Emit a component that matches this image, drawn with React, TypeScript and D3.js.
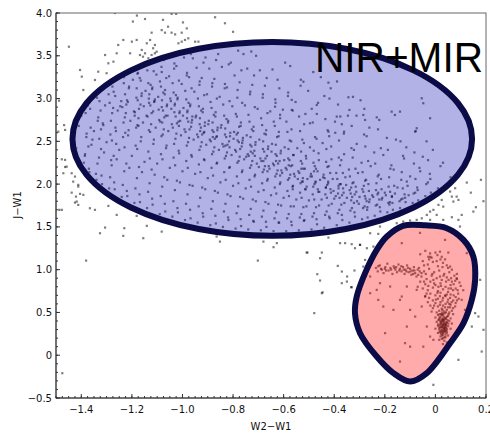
import React from "react";
import * as d3 from "d3";

// ---- axis ticks ----
const xTicks = [-1.4, -1.2, -1.0, -0.8, -0.6, -0.4, -0.2, 0, 0.2];
const xTickLabels = ["−1.4", "−1.2", "−1.0", "−0.8", "−0.6", "−0.4", "−0.2", "0", "0.2"];
const yTicks = [-0.5, 0, 0.5, 1.0, 1.5, 2.0, 2.5, 3.0, 3.5, 4.0];
const yTickLabels = ["−0.5", "0", "0.5", "1.0", "1.5", "2.0", "2.5", "3.0", "3.5", "4.0"];
const xLabel = "W2−W1";
const yLabel = "J−W1";
const title = "NIR+MIR";

// ---- region shapes (data units) ----
const blueEllipse = { cx: -0.645, cy: 2.528, rx: 0.79, ry: 1.133 };
const redOutline: [number, number][] = [
  [-0.128, 1.512], [-0.192, 1.387], [-0.232, 1.231], [-0.278, 0.959], [-0.311, 0.686],
  [-0.318, 0.492], [-0.298, 0.258], [-0.232, -0.015], [-0.166, -0.209], [-0.1, -0.307],
  [-0.034, -0.209], [0.058, 0.141], [0.111, 0.375], [0.144, 0.647], [0.157, 0.881],
  [0.15, 1.153], [0.111, 1.348], [0.045, 1.485], [-0.041, 1.518],
];

// ---- scatter points: blue (upper) population ----
const bluePoints: [number, number][] = [
  [-1.39,2.25],[-1.42,2.42],[-1.38,2.55],[-1.41,2.68],[-1.40,2.80],[-1.385,2.35],
  [-1.34,2.05],[-1.37,2.18],[-1.33,2.31],[-1.36,2.46],[-1.35,2.62],[-1.335,2.74],[-1.365,2.88],[-1.328,2.97],[-1.356,2.52],[-1.342,2.12],
  [-1.29,1.95],[-1.32,2.10],[-1.28,2.22],[-1.31,2.37],[-1.30,2.49],[-1.285,2.58],[-1.315,2.71],[-1.278,2.83],[-1.306,2.92],[-1.292,3.05],[-1.322,2.64],[-1.282,2.28],
  [-1.24,1.85],[-1.27,2.02],[-1.23,2.15],[-1.26,2.29],[-1.25,2.40],[-1.235,2.55],[-1.265,2.66],[-1.228,2.78],[-1.256,2.86],[-1.242,2.97],[-1.272,3.08],[-1.232,3.18],[-1.262,2.47],[-1.246,2.91],[-1.226,2.60],
  [-1.19,1.78],[-1.22,1.92],[-1.18,2.07],[-1.21,2.19],[-1.20,2.33],[-1.185,2.45],[-1.215,2.57],[-1.178,2.69],[-1.206,2.74],[-1.192,2.85],[-1.222,2.93],[-1.182,3.01],[-1.212,3.12],[-1.196,3.22],[-1.176,3.30],[-1.219,2.98],[-1.189,2.80],
  [-1.14,1.72],[-1.17,1.88],[-1.13,2.01],[-1.16,2.14],[-1.15,2.26],[-1.135,2.38],[-1.165,2.50],[-1.128,2.61],[-1.156,2.72],[-1.142,2.80],[-1.172,2.88],[-1.132,2.95],[-1.162,3.03],[-1.146,3.09],[-1.126,3.16],[-1.169,3.24],[-1.139,3.33],[-1.153,2.91],[-1.133,3.00],[-1.174,2.68],
  [-1.09,1.65],[-1.12,1.83],[-1.08,1.97],[-1.11,2.11],[-1.10,2.24],[-1.085,2.35],[-1.115,2.47],[-1.078,2.58],[-1.106,2.66],[-1.092,2.75],[-1.122,2.83],[-1.082,2.90],[-1.112,2.96],[-1.096,3.02],[-1.076,3.07],[-1.119,3.13],[-1.089,3.20],[-1.103,3.28],[-1.083,3.37],[-1.124,3.43],[-1.094,2.87],[-1.109,2.99],[-1.08,2.72],
  [-1.04,1.62],[-1.07,1.77],[-1.03,1.93],[-1.06,2.05],[-1.05,2.19],[-1.035,2.31],[-1.065,2.42],[-1.028,2.53],[-1.056,2.62],[-1.042,2.70],[-1.072,2.78],[-1.032,2.84],[-1.062,2.91],[-1.046,2.97],[-1.026,3.04],[-1.069,3.10],[-1.039,3.18],[-1.053,3.26],[-1.033,3.35],[-1.074,3.45],[-1.044,2.88],[-1.059,2.80],[-1.03,2.94],[-1.048,3.00],
  [-0.99,1.58],[-1.02,1.72],[-0.98,1.88],[-1.01,2.02],[-1.00,2.15],[-0.985,2.27],[-1.015,2.39],[-0.978,2.49],[-1.006,2.57],[-0.992,2.64],[-1.022,2.71],[-0.982,2.77],[-1.012,2.83],[-0.996,2.89],[-0.976,2.95],[-1.019,3.01],[-0.989,3.09],[-1.003,3.17],[-0.983,3.27],[-1.024,3.38],[-0.994,3.48],[-1.009,2.74],[-0.98,2.86],[-1.014,2.68],[-0.998,2.80],
  [-0.94,1.55],[-0.97,1.70],[-0.93,1.84],[-0.96,1.98],[-0.95,2.12],[-0.935,2.23],[-0.965,2.34],[-0.928,2.44],[-0.956,2.52],[-0.942,2.58],[-0.972,2.64],[-0.932,2.70],[-0.962,2.75],[-0.946,2.80],[-0.926,2.86],[-0.969,2.93],[-0.939,3.00],[-0.953,3.08],[-0.933,3.16],[-0.974,3.25],[-0.944,3.36],[-0.959,3.47],[-0.93,2.62],[-0.964,2.72],[-0.948,2.78],
  [-0.89,1.52],[-0.92,1.66],[-0.88,1.80],[-0.91,1.94],[-0.90,2.07],[-0.885,2.19],[-0.915,2.29],[-0.878,2.38],[-0.906,2.46],[-0.892,2.52],[-0.922,2.58],[-0.882,2.63],[-0.912,2.68],[-0.896,2.74],[-0.876,2.81],[-0.919,2.88],[-0.889,2.96],[-0.903,3.05],[-0.883,3.14],[-0.924,3.24],[-0.894,3.35],[-0.909,3.48],[-0.88,2.55],[-0.914,2.61],[-0.898,2.70],
  [-0.84,1.50],[-0.87,1.63],[-0.83,1.77],[-0.86,1.90],[-0.85,2.02],[-0.835,2.14],[-0.865,2.24],[-0.828,2.33],[-0.856,2.40],[-0.842,2.47],[-0.872,2.53],[-0.832,2.58],[-0.862,2.63],[-0.846,2.69],[-0.826,2.76],[-0.869,2.84],[-0.839,2.93],[-0.853,3.02],[-0.833,3.12],[-0.874,3.23],[-0.844,3.37],[-0.859,3.52],[-0.83,2.45],[-0.864,2.56],[-0.848,2.66],
  [-0.79,1.48],[-0.82,1.61],[-0.78,1.74],[-0.81,1.86],[-0.80,1.98],[-0.785,2.09],[-0.815,2.19],[-0.778,2.27],[-0.806,2.34],[-0.792,2.40],[-0.822,2.46],[-0.782,2.51],[-0.812,2.56],[-0.796,2.61],[-0.776,2.67],[-0.819,2.74],[-0.789,2.82],[-0.803,2.91],[-0.783,3.01],[-0.824,3.13],[-0.794,3.27],[-0.809,3.42],[-0.78,3.56],[-0.814,2.43],[-0.798,2.53],[-0.786,2.58],
  [-0.74,1.47],[-0.77,1.59],[-0.73,1.71],[-0.76,1.83],[-0.75,1.95],[-0.735,2.05],[-0.765,2.14],[-0.728,2.22],[-0.756,2.29],[-0.742,2.35],[-0.772,2.41],[-0.732,2.46],[-0.762,2.51],[-0.746,2.57],[-0.726,2.64],[-0.769,2.72],[-0.739,2.81],[-0.753,2.92],[-0.733,3.05],[-0.774,3.19],[-0.744,3.35],[-0.759,3.52],[-0.73,2.38],[-0.764,2.48],[-0.748,2.32],
  [-0.69,1.46],[-0.72,1.57],[-0.68,1.69],[-0.71,1.80],[-0.70,1.91],[-0.685,2.01],[-0.715,2.09],[-0.678,2.17],[-0.706,2.24],[-0.692,2.30],[-0.722,2.36],[-0.682,2.41],[-0.712,2.46],[-0.696,2.52],[-0.676,2.59],[-0.719,2.67],[-0.689,2.77],[-0.703,2.88],[-0.683,3.01],[-0.724,3.16],[-0.694,3.33],[-0.709,3.50],[-0.68,2.27],[-0.714,2.33],[-0.698,2.20],
  [-0.64,1.45],[-0.67,1.56],[-0.63,1.67],[-0.66,1.77],[-0.65,1.87],[-0.635,1.96],[-0.665,2.04],[-0.628,2.12],[-0.656,2.18],[-0.642,2.24],[-0.672,2.30],[-0.632,2.35],[-0.662,2.41],[-0.646,2.47],[-0.626,2.55],[-0.669,2.63],[-0.639,2.73],[-0.653,2.85],[-0.633,2.99],[-0.674,3.15],[-0.644,3.34],[-0.659,2.21],[-0.63,2.27],[-0.664,2.15],[-0.648,2.38],
  [-0.59,1.45],[-0.62,1.55],[-0.58,1.65],[-0.61,1.75],[-0.60,1.84],[-0.585,1.92],[-0.615,2.00],[-0.578,2.07],[-0.606,2.13],[-0.592,2.19],[-0.622,2.24],[-0.582,2.30],[-0.612,2.36],[-0.596,2.43],[-0.576,2.51],[-0.619,2.61],[-0.589,2.73],[-0.603,2.87],[-0.583,3.03],[-0.624,3.22],[-0.594,3.42],[-0.609,2.16],[-0.58,2.22],[-0.614,2.10],[-0.598,2.28],
  [-0.54,1.46],[-0.57,1.56],[-0.53,1.65],[-0.56,1.74],[-0.55,1.82],[-0.535,1.90],[-0.565,1.97],[-0.528,2.03],[-0.556,2.09],[-0.542,2.15],[-0.572,2.21],[-0.532,2.27],[-0.562,2.34],[-0.546,2.42],[-0.526,2.52],[-0.569,2.64],[-0.539,2.79],[-0.553,2.96],[-0.533,3.15],[-0.574,3.38],[-0.544,2.06],[-0.559,2.12],[-0.53,2.18],[-0.564,1.94],
  [-0.49,1.47],[-0.52,1.57],[-0.48,1.66],[-0.51,1.74],[-0.50,1.81],[-0.485,1.88],[-0.515,1.94],[-0.478,2.00],[-0.506,2.06],[-0.492,2.12],[-0.522,2.18],[-0.482,2.25],[-0.512,2.33],[-0.496,2.43],[-0.476,2.55],[-0.519,2.70],[-0.489,2.88],[-0.503,3.09],[-0.483,3.31],[-0.524,2.03],[-0.494,2.09],[-0.509,1.97],[-0.48,2.15],
  [-0.44,1.49],[-0.47,1.59],[-0.43,1.68],[-0.46,1.75],[-0.45,1.82],[-0.435,1.88],[-0.465,1.94],[-0.428,1.99],[-0.456,2.05],[-0.442,2.11],[-0.472,2.18],[-0.432,2.26],[-0.462,2.36],[-0.446,2.48],[-0.426,2.63],[-0.469,2.82],[-0.439,3.03],[-0.453,3.25],[-0.433,1.96],[-0.474,2.02],[-0.444,2.08],[-0.459,1.91],
  [-0.39,1.52],[-0.42,1.62],[-0.38,1.70],[-0.41,1.77],[-0.40,1.83],[-0.385,1.89],[-0.415,1.94],[-0.378,2.00],[-0.406,2.06],[-0.392,2.13],[-0.422,2.21],[-0.382,2.31],[-0.412,2.44],[-0.396,2.60],[-0.376,2.79],[-0.419,3.00],[-0.389,3.20],[-0.403,1.92],[-0.383,1.98],[-0.424,2.03],[-0.394,1.86],
  [-0.34,1.55],[-0.37,1.64],[-0.33,1.72],[-0.36,1.78],[-0.35,1.84],[-0.335,1.89],[-0.365,1.95],[-0.328,2.01],[-0.356,2.08],[-0.342,2.17],[-0.372,2.28],[-0.332,2.42],[-0.362,2.59],[-0.346,2.80],[-0.326,3.02],[-0.369,1.87],[-0.339,1.93],[-0.353,1.99],[-0.333,1.81],
  [-0.29,1.59],[-0.32,1.67],[-0.28,1.74],[-0.31,1.80],[-0.30,1.85],[-0.285,1.91],[-0.315,1.97],[-0.278,2.04],[-0.306,2.13],[-0.292,2.25],[-0.322,2.40],[-0.282,2.58],[-0.312,2.80],[-0.296,2.98],[-0.276,1.83],[-0.319,1.88],[-0.289,1.94],[-0.303,1.77],
  [-0.24,1.63],[-0.27,1.70],[-0.23,1.76],[-0.26,1.82],[-0.25,1.87],[-0.235,1.93],[-0.265,2.00],[-0.228,2.09],[-0.256,2.21],[-0.242,2.37],[-0.272,2.56],[-0.232,2.78],[-0.262,1.79],[-0.246,1.85],[-0.226,1.90],[-0.269,1.73],
  [-0.19,1.67],[-0.22,1.73],[-0.18,1.79],[-0.21,1.84],[-0.20,1.90],[-0.185,1.97],[-0.215,2.06],[-0.178,2.18],[-0.206,2.34],[-0.192,2.54],[-0.222,2.75],[-0.182,1.76],[-0.212,1.82],[-0.196,1.87],
  [-0.14,1.72],[-0.17,1.78],[-0.13,1.83],[-0.16,1.89],[-0.15,1.96],[-0.135,2.05],[-0.165,2.17],[-0.128,2.33],[-0.156,2.52],[-0.142,1.80],[-0.172,1.86],
  [-0.09,1.78],[-0.12,1.84],[-0.08,1.90],[-0.11,1.98],[-0.10,2.09],[-0.085,2.24],[-0.115,2.43],[-0.078,2.62],[-0.106,1.87],
  [-0.04,1.86],[-0.07,1.93],[-0.03,2.02],[-0.06,2.15],[-0.05,2.32],[-0.035,2.50],
  [0.01,1.95],[-0.02,2.06],[0.02,2.21],[-0.01,2.40],[0.06,2.08],[0.03,2.25],
  [-0.522,3.197],[-0.423,3.186],[-0.344,3.015],[-0.054,3.003],[-0.048,2.945],[-0.021,2.77],[-0.173,2.847],[-0.16,2.808],
  [-0.14,2.847],[-0.285,2.808],[-0.278,2.75],[-0.34,2.867],[-0.39,2.789],[-0.397,2.73],[-0.469,2.925],[-0.568,2.984],
  [-0.568,2.867],[-0.614,2.77],[-0.634,2.905],[-0.496,2.711],[-0.08,2.613],[-0.074,2.653],[-0.361,2.613],[-0.423,2.613],
];

// second pass of blue points read between the columns above
const bluePoints2: [number, number][] = [
  [-1.368,2.14],[-1.386,2.33],[-1.372,2.44],[-1.379,2.59],[-1.363,2.66],[-1.383,2.83],[-1.374,2.92],
  [-1.318,2.00],[-1.336,2.24],[-1.322,2.41],[-1.329,2.53],[-1.313,2.69],[-1.333,2.78],[-1.324,2.86],[-1.338,3.01],
  [-1.268,1.94],[-1.286,2.08],[-1.272,2.33],[-1.279,2.51],[-1.263,2.62],[-1.283,2.74],[-1.274,2.89],[-1.288,2.95],[-1.266,3.03],[-1.277,3.14],
  [-1.218,1.86],[-1.236,1.99],[-1.222,2.24],[-1.229,2.43],[-1.213,2.63],[-1.233,2.72],[-1.224,2.83],[-1.238,2.90],[-1.216,2.96],[-1.227,3.05],[-1.211,3.14],[-1.231,3.25],
  [-1.168,1.79],[-1.186,1.95],[-1.172,2.20],[-1.179,2.41],[-1.163,2.55],[-1.183,2.66],[-1.174,2.77],[-1.188,2.84],[-1.166,2.93],[-1.177,2.98],[-1.161,3.06],[-1.181,3.12],[-1.165,3.21],[-1.178,3.29],
  [-1.118,1.76],[-1.136,1.91],[-1.122,2.17],[-1.129,2.30],[-1.113,2.52],[-1.133,2.63],[-1.124,2.70],[-1.138,2.79],[-1.116,2.85],[-1.127,2.92],[-1.111,2.97],[-1.131,3.05],[-1.12,3.11],[-1.135,3.18],[-1.114,3.32],[-1.132,3.40],
  [-1.068,1.68],[-1.086,1.86],[-1.072,2.08],[-1.079,2.29],[-1.063,2.45],[-1.083,2.56],[-1.074,2.64],[-1.088,2.73],[-1.066,2.80],[-1.077,2.86],[-1.061,2.93],[-1.081,2.98],[-1.07,3.05],[-1.085,3.14],[-1.064,3.24],[-1.082,3.31],[-1.067,3.47],
  [-1.018,1.67],[-1.036,1.80],[-1.022,2.04],[-1.029,2.22],[-1.013,2.36],[-1.033,2.47],[-1.024,2.59],[-1.038,2.66],[-1.016,2.73],[-1.027,2.79],[-1.011,2.85],[-1.031,2.92],[-1.02,2.99],[-1.035,3.07],[-1.014,3.21],[-1.032,3.41],
  [-0.968,1.60],[-0.986,1.77],[-0.972,1.99],[-0.979,2.19],[-0.963,2.32],[-0.983,2.45],[-0.974,2.54],[-0.988,2.61],[-0.966,2.67],[-0.977,2.73],[-0.961,2.79],[-0.981,2.84],[-0.97,2.91],[-0.985,2.99],[-0.964,3.12],[-0.982,3.30],[-0.967,3.52],
  [-0.918,1.62],[-0.936,1.74],[-0.922,1.96],[-0.929,2.14],[-0.913,2.28],[-0.933,2.40],[-0.924,2.49],[-0.938,2.55],[-0.916,2.60],[-0.927,2.66],[-0.911,2.72],[-0.931,2.77],[-0.92,2.84],[-0.935,2.91],[-0.914,3.04],[-0.932,3.20],[-0.917,3.42],
  [-0.868,1.54],[-0.886,1.71],[-0.872,1.92],[-0.879,2.10],[-0.863,2.25],[-0.883,2.35],[-0.874,2.43],[-0.888,2.50],[-0.866,2.55],[-0.877,2.61],[-0.861,2.66],[-0.881,2.72],[-0.87,2.79],[-0.885,2.89],[-0.864,3.00],[-0.882,3.18],[-0.867,3.45],
  [-0.818,1.58],[-0.836,1.68],[-0.822,1.88],[-0.829,2.05],[-0.813,2.20],[-0.833,2.30],[-0.824,2.37],[-0.838,2.44],[-0.816,2.50],[-0.827,2.55],[-0.811,2.60],[-0.831,2.65],[-0.82,2.72],[-0.835,2.80],[-0.814,2.97],[-0.832,3.17],[-0.817,3.40],
  [-0.768,1.51],[-0.786,1.66],[-0.772,1.85],[-0.779,2.01],[-0.763,2.16],[-0.783,2.25],[-0.774,2.32],[-0.788,2.38],[-0.766,2.44],[-0.777,2.49],[-0.761,2.54],[-0.781,2.60],[-0.77,2.68],[-0.785,2.79],[-0.764,2.95],[-0.782,3.10],[-0.767,3.33],
  [-0.718,1.56],[-0.736,1.64],[-0.722,1.82],[-0.729,1.97],[-0.713,2.11],[-0.733,2.19],[-0.724,2.27],[-0.738,2.33],[-0.716,2.39],[-0.727,2.44],[-0.711,2.49],[-0.731,2.55],[-0.72,2.62],[-0.735,2.73],[-0.714,2.90],[-0.732,3.08],[-0.717,3.27],[-0.728,3.55],
  [-0.668,1.50],[-0.686,1.62],[-0.672,1.79],[-0.679,1.93],[-0.663,2.06],[-0.683,2.14],[-0.674,2.21],[-0.688,2.27],[-0.666,2.33],[-0.677,2.38],[-0.661,2.44],[-0.681,2.50],[-0.67,2.58],[-0.685,2.69],[-0.664,2.83],[-0.682,3.05],[-0.667,3.24],
  [-0.618,1.55],[-0.636,1.60],[-0.622,1.76],[-0.629,1.89],[-0.613,2.02],[-0.633,2.09],[-0.624,2.16],[-0.638,2.22],[-0.616,2.27],[-0.627,2.33],[-0.611,2.39],[-0.631,2.46],[-0.62,2.56],[-0.635,2.68],[-0.614,2.81],[-0.632,2.95],[-0.617,3.12],
  [-0.568,1.52],[-0.586,1.60],[-0.572,1.74],[-0.579,1.86],[-0.563,1.98],[-0.583,2.05],[-0.574,2.11],[-0.588,2.17],[-0.566,2.22],[-0.577,2.28],[-0.561,2.34],[-0.581,2.41],[-0.57,2.50],[-0.585,2.61],[-0.564,2.86],[-0.582,3.07],
  [-0.518,1.58],[-0.536,1.61],[-0.522,1.73],[-0.529,1.84],[-0.513,1.94],[-0.533,2.01],[-0.524,2.07],[-0.538,2.13],[-0.516,2.18],[-0.527,2.24],[-0.511,2.30],[-0.531,2.38],[-0.52,2.48],[-0.535,2.62],[-0.514,2.82],[-0.532,3.22],
  [-0.468,1.53],[-0.486,1.62],[-0.472,1.73],[-0.479,1.82],[-0.463,1.91],[-0.483,1.97],[-0.474,2.03],[-0.488,2.09],[-0.466,2.15],[-0.477,2.21],[-0.461,2.28],[-0.481,2.39],[-0.47,2.53],[-0.485,2.72],[-0.464,2.95],
  [-0.418,1.60],[-0.436,1.64],[-0.422,1.75],[-0.429,1.84],[-0.413,1.90],[-0.433,1.96],[-0.424,2.01],[-0.438,2.07],[-0.416,2.13],[-0.427,2.20],[-0.411,2.29],[-0.431,2.41],[-0.42,2.56],[-0.435,2.76],[-0.414,3.12],
  [-0.368,1.58],[-0.386,1.66],[-0.372,1.76],[-0.379,1.84],[-0.363,1.90],[-0.383,1.95],[-0.374,2.00],[-0.388,2.06],[-0.366,2.13],[-0.377,2.22],[-0.361,2.35],[-0.381,2.51],[-0.37,2.70],[-0.385,2.93],
  [-0.318,1.62],[-0.336,1.69],[-0.322,1.78],[-0.329,1.85],[-0.313,1.91],[-0.333,1.96],[-0.324,2.02],[-0.338,2.09],[-0.316,2.18],[-0.327,2.31],[-0.311,2.47],[-0.331,2.68],
  [-0.268,1.61],[-0.286,1.72],[-0.272,1.80],[-0.279,1.86],[-0.263,1.92],[-0.283,1.98],[-0.274,2.05],[-0.288,2.14],[-0.266,2.27],[-0.277,2.44],[-0.261,2.66],[-0.281,2.88],
  [-0.218,1.68],[-0.236,1.75],[-0.222,1.82],[-0.229,1.88],[-0.213,1.94],[-0.233,2.01],[-0.224,2.11],[-0.238,2.24],[-0.216,2.42],[-0.227,2.64],
  [-0.168,1.70],[-0.186,1.78],[-0.172,1.85],[-0.179,1.91],[-0.163,1.98],[-0.183,2.08],[-0.174,2.22],[-0.188,2.40],
  [-0.118,1.79],[-0.136,1.82],[-0.122,1.88],[-0.129,1.95],[-0.113,2.03],[-0.133,2.14],[-0.124,2.30],[-0.138,2.50],
  [-0.068,1.81],[-0.086,1.89],[-0.072,1.96],[-0.079,2.06],[-0.063,2.19],[-0.083,2.37],
  [-0.018,1.90],[-0.036,2.00],[-0.022,2.12],[-0.029,2.28],
];

// ---- scatter points outside the two regions ----
const outsidePoints: [number, number][] = [
  [-1.267,4.0],[-1.18,3.97],[-1.148,3.93],[-1.043,3.99],[-1.025,3.99],[-1.196,3.90],[-1.077,3.92],[-1.057,3.84],
  [-1.082,3.80],[-1.069,3.77],[-1.043,3.77],[-1.029,3.75],[-1.003,3.77],[-0.998,3.89],[-0.983,3.82],[-0.871,3.95],
  [-0.832,3.88],[-0.80,3.78],[-1.122,3.77],[-1.128,3.685],[-1.141,3.646],[-1.109,3.626],[-1.116,3.588],[-1.102,3.548],
  [-1.161,3.568],[-1.148,3.529],[-1.122,3.509],[-1.109,3.529],[-1.168,3.509],[-1.156,3.489],[-1.135,3.471],
  [-0.99,3.685],[-0.977,3.704],[-1.003,3.665],[-0.95,3.665],[-0.937,3.665],[-1.016,3.646],
  [-1.20,3.665],[-1.181,3.685],[-1.234,3.685],[-1.254,3.626],[-1.207,3.529],[-1.26,3.529],[-1.273,3.431],[-1.306,3.509],
  [-1.293,3.412],[-1.333,3.314],[-1.405,3.334],[-1.398,3.256],[-1.449,3.606],[-1.488,2.975],[-1.392,3.10],[-1.346,3.217],[-1.30,3.296],
  [-1.468,2.69],[-1.464,2.633],[-1.491,2.613],[-1.477,2.29],[-1.464,2.283],[-1.458,2.204],[-1.471,2.127],
  [-1.432,2.029],[-1.412,1.971],[-1.438,1.90],[-1.421,1.854],[-1.405,1.886],[-1.418,1.796],[-1.477,1.699],[-1.487,1.699],
  [-1.464,2.20],[-1.438,2.127],[-1.425,2.088],[-1.412,1.991],[-1.392,1.874],[-1.425,1.784],[-1.412,1.757],
  [-1.366,1.718],[-1.346,1.699],[-1.293,1.745],[-1.26,1.64],[-1.306,1.492],[-1.326,1.426],[-1.23,1.485],[-1.234,1.395],
  [-1.155,1.368],[-1.141,1.512],[-1.181,1.628],[-1.082,1.445],[-0.852,1.328],[-0.865,1.387],[-0.68,1.328],
  [-1.381,1.106],[-1.475,-0.21],[-0.702,1.106],[-0.506,1.20],[-0.449,1.20],[-0.456,1.134],[-0.386,1.044],[-0.467,0.947],
  [-0.456,0.873],[-0.349,0.92],[-0.37,0.842],[-0.333,0.795],[-0.449,0.725],[-0.446,0.735],[-0.479,0.492],[-0.32,0.99],
  [0.124,2.018],[0.15,1.679],[0.078,1.952],[0.058,1.913],[0.065,1.854],[0.084,1.854],[0.071,1.796],[0.091,1.815],
  [0.025,1.815],[0.012,1.757],[0.031,1.737],[-0.008,1.699],[-0.021,1.679],[0.005,1.64],[-0.034,1.64],[-0.054,1.60],
  [-0.074,1.582],[-0.021,1.582],[0.031,1.582],[0.065,1.613],[0.091,1.582],[0.097,1.504],[0.071,1.465],[0.045,1.497],
  [0.104,1.64],[-0.127,1.562],[-0.10,1.574],[-0.153,1.543],[-0.219,1.504],[-0.226,1.418],[-0.258,1.426],[-0.298,1.29],
  [-0.331,1.298],[-0.271,1.251],[-0.377,1.31],[-0.627,1.31],[-0.64,1.263],[-0.509,1.20],[-0.423,1.375],[0.124,1.193],
  [-0.357,1.31],[-0.35,0.861],[-0.331,0.795],[-0.37,0.978],[-0.318,1.251],[-0.278,1.114],[-0.298,1.29],[-0.245,1.27],
  [0.177,0.881],[0.157,0.492],[0.144,0.335],[0.19,0.297],[0.183,0.043],[0.091,-0.054],[-0.008,-0.346],[0.17,0.452],
  [0.18,2.05],[0.19,1.80],[0.16,1.73],[0.14,1.90],
];

// ---- scatter points: red (lower) population ----
const redPoints: [number, number][] = [
  [-0.235,1.02],[-0.228,0.98],[-0.22,1.05],[-0.212,1.00],[-0.205,0.96],[-0.198,1.03],[-0.19,1.07],[-0.185,0.99],
  [-0.178,1.02],[-0.17,0.95],[-0.165,1.04],[-0.158,1.00],[-0.152,0.97],[-0.146,1.06],[-0.14,1.01],[-0.134,0.98],
  [-0.128,1.03],[-0.122,0.95],[-0.118,1.00],[-0.112,1.05],[-0.106,0.97],[-0.1,1.01],[-0.095,0.94],[-0.09,0.99],
  [-0.085,1.03],[-0.08,0.96],[-0.075,0.92],[-0.07,1.00],[-0.068,0.94],[-0.062,0.98],[-0.215,1.01],[-0.195,0.99],
  [-0.175,1.00],[-0.162,1.02],[-0.143,0.99],[-0.125,1.00],[-0.108,1.02],[-0.098,0.98],[-0.083,0.99],[-0.226,1.04],
  [-0.2,1.01],[-0.155,1.03],[-0.135,1.04],[-0.115,0.98],[-0.088,0.95],
  [-0.06,1.18],[-0.04,1.22],[-0.02,1.15],[0.00,1.20],[0.02,1.12],[-0.05,1.10],[-0.03,1.06],[-0.01,1.09],
  [0.01,1.04],[0.03,1.08],[0.05,1.02],[-0.065,1.02],[-0.045,0.98],[-0.025,1.01],[-0.005,0.97],[0.015,0.99],
  [0.035,0.95],[0.055,0.97],[0.075,0.93],[-0.055,0.92],[-0.035,0.89],[-0.015,0.93],[0.005,0.90],[0.025,0.88],
  [0.045,0.91],[0.065,0.86],[0.085,0.89],[-0.06,0.86],[-0.04,0.83],[-0.02,0.86],[0.00,0.82],[0.02,0.84],
  [0.04,0.80],[0.06,0.82],[0.08,0.78],[0.10,0.81],[-0.05,0.78],[-0.03,0.76],[-0.01,0.79],[0.01,0.75],
  [0.03,0.77],[0.05,0.74],[0.07,0.76],[0.09,0.72],[-0.015,1.14],[0.008,1.17],[0.028,1.03],[-0.038,0.95],
  [0.042,0.86],[0.062,0.90],[-0.008,0.88],[0.018,0.92],[-0.028,0.81],[0.012,0.80],[0.052,0.78],[0.072,0.83],
  [0.095,0.85],[0.11,0.76],[-0.07,0.80],[0.038,1.12],
  [-0.045,1.05],[-0.025,1.12],[0.005,1.10],[0.025,1.15],[0.045,1.05],[0.065,1.00],[0.085,0.95],[-0.055,0.96],
  [-0.012,0.95],[0.032,0.93],[0.052,0.88],[0.078,0.87],[-0.045,0.86],[-0.005,0.84],[0.022,0.81],[0.062,0.78],
  [0.088,0.76],[-0.035,0.72],[0.045,0.71],[0.072,0.70],[0.092,0.66],[-0.025,0.67],[0.064,0.62],[0.078,0.57],
  [0.058,0.56],[0.07,0.48],[-0.005,0.58],[0.002,0.65],[0.055,0.60],[0.085,0.64],
  [-0.02,0.72],[0.00,0.70],[0.02,0.73],[0.04,0.69],[0.06,0.71],[0.08,0.68],[-0.04,0.69],[0.01,0.66],
  [0.03,0.67],[0.05,0.65],[0.07,0.64],[-0.01,0.64],[-0.03,0.62],[0.00,0.61],[0.02,0.62],[0.04,0.60],
  [0.06,0.59],[0.08,0.61],[0.01,0.57],[0.03,0.58],[0.05,0.56],[0.07,0.55],[-0.01,0.55],[-0.02,0.58],
  [0.025,0.545],[0.045,0.53],[0.015,0.52],[0.035,0.51],[0.055,0.50],[0.065,0.52],[0.005,0.50],[-0.015,0.51],
  [0.01,0.47],[0.03,0.48],[0.05,0.46],[0.02,0.45],[0.04,0.44],[0.06,0.43],[0.00,0.44],[0.015,0.42],
  [0.035,0.41],[0.055,0.40],[0.025,0.39],[0.045,0.38],[0.005,0.39],[0.065,0.37],[0.01,0.36],[0.03,0.35],
  [0.05,0.34],[0.02,0.33],[0.04,0.32],[0.00,0.31],[0.06,0.31],[0.015,0.30],[0.035,0.29],[0.025,0.27],
  [0.045,0.26],[0.01,0.26],[0.03,0.24],[0.05,0.23],[0.02,0.22],[0.04,0.21],[0.025,0.19],[0.035,0.17],
  [0.015,0.18],[0.045,0.15],[0.03,0.13],
  [0.022,0.48],[0.032,0.455],[0.042,0.425],[0.028,0.405],[0.038,0.37],[0.018,0.355],[0.028,0.325],[0.038,0.30],
  [0.032,0.28],[0.022,0.25],[0.042,0.35],[0.012,0.41],[0.048,0.41],[0.052,0.48],[0.042,0.50],[0.028,0.53],
  [0.038,0.56],[0.018,0.59],[0.048,0.62],[0.028,0.64],[0.058,0.67],[0.038,0.70],[0.018,0.69],[0.008,0.73],
  [0.026,0.47],[0.036,0.43],[0.016,0.44],[0.046,0.45],[0.024,0.42],[0.034,0.39],[0.044,0.39],[0.02,0.38],
  [0.03,0.37],[0.04,0.33],[0.026,0.35],[0.036,0.34],[0.016,0.32],[0.046,0.31],[0.024,0.30],[0.034,0.31],
  [0.044,0.28],[0.02,0.28],[0.03,0.26],[0.04,0.24],[0.026,0.23],[0.036,0.21],[0.03,0.20],[0.026,0.50],
  [0.036,0.49],[0.016,0.48],[0.03,0.43],[0.022,0.37],[0.033,0.32],[0.027,0.29],[0.037,0.27],[0.041,0.36],
  [0.011,0.34],[0.051,0.37],[0.043,0.29],[0.017,0.27],[0.03,0.41],[0.025,0.33],[0.035,0.36],[0.02,0.40],
  [-0.133,1.31],[-0.061,1.43],[-0.021,1.19],[-0.028,1.15],[0.018,1.21],[0.051,1.20],[0.084,0.90],[0.117,0.53],
  [0.104,0.647],[-0.258,0.725],[-0.226,0.647],[-0.206,0.569],[-0.232,0.764],[-0.133,0.686],[-0.14,0.647],[-0.166,0.53],
  [-0.10,0.53],[-0.113,0.335],[-0.199,0.258],[-0.12,0.141],[-0.10,0.10],[-0.048,0.10],[-0.021,0.218],[-0.14,-0.074],
  [-0.08,0.452],[-0.054,0.569],[-0.041,0.686],[-0.258,0.92],[-0.219,0.842],[-0.179,0.803],[-0.285,1.036],[-0.074,0.764],
  [-0.113,0.803],[0.038,1.348],[0.058,1.036],[-0.034,0.335],[-0.008,0.18],
];

const W = 490;
const H = 435;

export default function App() {
  const x = d3.scaleLinear().domain([-1.5, 0.2]).range([56, 486]);
  const y = d3.scaleLinear().domain([-0.5, 4.0]).range([398, 13]);

  const xMinor = d3.range(0, 69).map((i) => -1.5 + i * 0.025);
  const yMinor = d3.range(0, 46).map((i) => -0.5 + i * 0.1);

  const redPath = d3
    .line<[number, number]>()
    .x((d) => x(d[0]))
    .y((d) => y(d[1]))
    .curve(d3.curveCatmullRomClosed.alpha(0.5))(redOutline) || "";

  const allPts = [...outsidePoints, ...bluePoints, ...bluePoints2, ...redPoints];
  const ps = 2.2;
  const axisColor = "#333";
  const font = "'DejaVu Sans', sans-serif";

  return (
    <svg
      width={W}
      height={H}
      style={{ position: "absolute", left: 0, top: 0, background: "#fff" }}
      xmlns="http://www.w3.org/2000/svg"
    >
      <rect x={0} y={0} width={W} height={H} fill="#fff" />
      <defs>
        <clipPath id="plotclip">
          <rect x={56} y={13} width={430} height={385} />
        </clipPath>
      </defs>
      <g clipPath="url(#plotclip)">
        {allPts.map((d, i) => (
          <rect
            key={i}
            x={x(d[0]) - ps / 2}
            y={y(d[1]) - ps / 2}
            width={ps}
            height={ps}
            fill="#000"
            fillOpacity={0.5}
          />
        ))}
        <ellipse
          cx={x(blueEllipse.cx)}
          cy={y(blueEllipse.cy)}
          rx={x(blueEllipse.cx + blueEllipse.rx) - x(blueEllipse.cx)}
          ry={y(blueEllipse.cy) - y(blueEllipse.cy + blueEllipse.ry)}
          fill="rgb(0,0,171)"
          fillOpacity={0.3}
          stroke="#0b0b48"
          strokeWidth={6}
        />
        <path d={redPath} fill="rgb(255,0,0)" fillOpacity={0.33} stroke="#0b0b48" strokeWidth={6} />
      </g>

      {/* frame */}
      <rect x={56} y={13} width={430} height={385} fill="none" stroke="#666" strokeWidth={1} />
      <line x1={56} y1={398} x2={486} y2={398} stroke={axisColor} strokeWidth={1} />
      <line x1={56} y1={13} x2={56} y2={398} stroke={axisColor} strokeWidth={1} />

      {/* minor ticks */}
      {xMinor.map((v, i) => (
        <line key={"xm" + i} x1={x(v)} x2={x(v)} y1={398} y2={396} stroke={axisColor} strokeWidth={1} />
      ))}
      {yMinor.map((v, i) => (
        <line key={"ym" + i} x1={56} x2={58} y1={y(v)} y2={y(v)} stroke={axisColor} strokeWidth={1} />
      ))}
      {/* major ticks + labels */}
      {xTicks.map((v, i) => (
        <g key={"xt" + i}>
          <line x1={x(v)} x2={x(v)} y1={398} y2={394} stroke={axisColor} strokeWidth={1} />
          <text x={x(v)} y={413} textAnchor="middle" fontFamily={font} fontSize={10} fill="#111">
            {xTickLabels[i]}
          </text>
        </g>
      ))}
      {yTicks.map((v, i) => (
        <g key={"yt" + i}>
          <line x1={56} x2={60} y1={y(v)} y2={y(v)} stroke={axisColor} strokeWidth={1} />
          <text x={52} y={y(v) + 3.6} textAnchor="end" fontFamily={font} fontSize={10} fill="#111">
            {yTickLabels[i]}
          </text>
        </g>
      ))}

      <text x={271} y={430} textAnchor="middle" fontFamily={font} fontSize={10} fill="#111">
        {xLabel}
      </text>
      <text
        transform="translate(21,205) rotate(-90)"
        textAnchor="middle"
        fontFamily={font}
        fontSize={10}
        fill="#111"
      >
        {yLabel}
      </text>

      <text
        x={315}
        y={72}
        fontFamily="'Liberation Sans', Arial, sans-serif"
        fontSize={42}
        textLength={168}
        lengthAdjust="spacingAndGlyphs"
        fill="#000"
      >
        {title}
      </text>
    </svg>
  );
}
